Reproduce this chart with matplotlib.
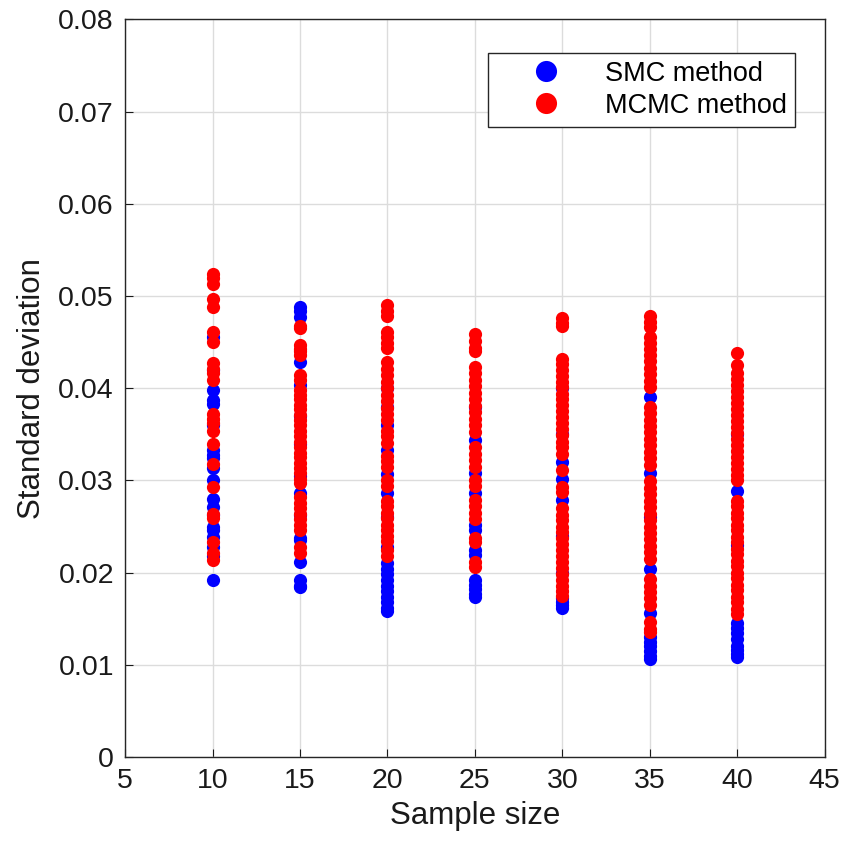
import matplotlib
matplotlib.use("Agg")
import matplotlib.pyplot as plt
import numpy as np

### Sample sizes (x positions of each column of runs)
SAMPLE_SIZES = [10, 15, 20, 25, 30, 35, 40]

### Standard deviations of the SMC runs, one list per sample size
SMC_10 = [0.0455, 0.0420, 0.0398, 0.0387, 0.0383, 0.0360, 0.0333, 0.0328, 0.0324, 0.0313,
          0.0300, 0.0280, 0.0271, 0.0262, 0.0250, 0.0246, 0.0239, 0.0228, 0.0218, 0.0192]
SMC_15 = [0.0488, 0.0484, 0.0477, 0.0428, 0.0403, 0.0370, 0.0340, 0.0305, 0.0286, 0.0262,
          0.0238, 0.0235, 0.0211, 0.0192, 0.0186, 0.0184]
SMC_20 = [0.0400, 0.0380, 0.0360, 0.0333, 0.0307, 0.0286, 0.0260, 0.0228, 0.0210, 0.0204,
          0.0198, 0.0192, 0.0186, 0.0180, 0.0174, 0.0168, 0.0162, 0.0158]
SMC_25 = [0.0380, 0.0344, 0.0308, 0.0286, 0.0252, 0.0246, 0.0224, 0.0219, 0.0192, 0.0187,
          0.0182, 0.0177, 0.0174]
SMC_30 = [0.0400, 0.0350, 0.0320, 0.0302, 0.0279, 0.0240, 0.0200, 0.0172, 0.0168, 0.0165,
          0.0162]
SMC_35 = [0.0390, 0.0308, 0.0260, 0.0204, 0.0156, 0.0130, 0.0125, 0.0120, 0.0115, 0.0110,
          0.0106]
SMC_40 = [0.0350, 0.0289, 0.0230, 0.0145, 0.0140, 0.0135, 0.0128, 0.0120, 0.0116, 0.0112,
          0.0108]

### Standard deviations of the MCMC runs
MCMC_10 = [0.0524, 0.0519, 0.0513, 0.0497, 0.0488, 0.0461, 0.0450, 0.0427, 0.0421, 0.0416,
           0.0409, 0.0372, 0.0367, 0.0362, 0.0354, 0.0340, 0.0318, 0.0293, 0.0264, 0.0259,
           0.0233, 0.0221, 0.0214]
MCMC_15 = [0.0468, 0.0465, 0.0447, 0.0443, 0.0440, 0.0436, 0.0414, 0.0409, 0.0398, 0.0393,
           0.0388, 0.0382, 0.0377, 0.0371, 0.0365, 0.0360, 0.0354, 0.0348, 0.0342, 0.0336,
           0.0330, 0.0325, 0.0319, 0.0313, 0.0308, 0.0302, 0.0297, 0.0282, 0.0276, 0.0270,
           0.0264, 0.0258, 0.0252, 0.0246, 0.0228, 0.0221]
MCMC_20 = [0.0490, 0.0484, 0.0478, 0.0461, 0.0455, 0.0449, 0.0444, 0.0428, 0.0421, 0.0414,
           0.0407, 0.0400, 0.0393, 0.0386, 0.0379, 0.0372, 0.0365, 0.0354, 0.0348, 0.0341,
           0.0327, 0.0321, 0.0314, 0.0300, 0.0294, 0.0278, 0.0272, 0.0265, 0.0259, 0.0252,
           0.0246, 0.0240, 0.0234, 0.0224, 0.0218]
MCMC_25 = [0.0459, 0.0451, 0.0444, 0.0440, 0.0423, 0.0416, 0.0409, 0.0402, 0.0395, 0.0388,
           0.0381, 0.0374, 0.0367, 0.0360, 0.0353, 0.0336, 0.0329, 0.0322, 0.0315, 0.0300,
           0.0294, 0.0279, 0.0272, 0.0265, 0.0258, 0.0237, 0.0233, 0.0212, 0.0206]
MCMC_30 = [0.0476, 0.0471, 0.0467, 0.0432, 0.0426, 0.0420, 0.0413, 0.0407, 0.0401, 0.0394,
           0.0388, 0.0382, 0.0375, 0.0369, 0.0362, 0.0356, 0.0349, 0.0342, 0.0336, 0.0329,
           0.0311, 0.0293, 0.0287, 0.0270, 0.0263, 0.0257, 0.0250, 0.0244, 0.0237, 0.0231,
           0.0224, 0.0218, 0.0211, 0.0205, 0.0198, 0.0192, 0.0186, 0.0180, 0.0175]
MCMC_35 = [0.0478, 0.0472, 0.0466, 0.0456, 0.0449, 0.0443, 0.0436, 0.0429, 0.0422, 0.0415,
           0.0408, 0.0401, 0.0380, 0.0373, 0.0366, 0.0359, 0.0352, 0.0345, 0.0338, 0.0331,
           0.0324, 0.0317, 0.0299, 0.0292, 0.0285, 0.0278, 0.0271, 0.0264, 0.0257, 0.0250,
           0.0243, 0.0236, 0.0229, 0.0222, 0.0215, 0.0193, 0.0186, 0.0179, 0.0172, 0.0165,
           0.0146, 0.0139, 0.0136]
MCMC_40 = [0.0438, 0.0425, 0.0416, 0.0410, 0.0403, 0.0397, 0.0390, 0.0384, 0.0377, 0.0371,
           0.0364, 0.0358, 0.0351, 0.0345, 0.0338, 0.0332, 0.0325, 0.0319, 0.0312, 0.0306,
           0.0300, 0.0278, 0.0272, 0.0265, 0.0259, 0.0252, 0.0246, 0.0239, 0.0233, 0.0226,
           0.0220, 0.0213, 0.0207, 0.0200, 0.0194, 0.0187, 0.0181, 0.0174, 0.0168, 0.0161,
           0.0155]

SMC = [SMC_10, SMC_15, SMC_20, SMC_25, SMC_30, SMC_35, SMC_40]
MCMC = [MCMC_10, MCMC_15, MCMC_20, MCMC_25, MCMC_30, MCMC_35, MCMC_40]

plt.rcParams['font.family'] = ['Liberation Sans', 'DejaVu Sans']

fig = plt.figure(figsize=(8.45, 8.43), dpi=100)
ax = fig.add_axes([0.148, 0.102, 0.828, 0.875])

def stack(groups):
	xs, ys = [], []
	for n, vals in zip(SAMPLE_SIZES, groups):
		xs.extend([n] * len(vals))
		ys.extend(vals)
	return xs, ys

# blue first, red drawn on top of it
x_smc, y_smc = stack(SMC)
x_mcmc, y_mcmc = stack(MCMC)
ax.plot(x_smc, y_smc, 'o', color='#0000ff', markersize=9.5, markeredgewidth=0, label='SMC method', zorder=3)
ax.plot(x_mcmc, y_mcmc, 'o', color='#ff0000', markersize=9.5, markeredgewidth=0, label='MCMC method', zorder=4)

ax.set_xlim(5, 45)
ax.set_ylim(0, 0.08)
ax.set_xticks(np.arange(5, 46, 5))
ax.set_yticks(np.arange(0, 0.081, 0.01))
ax.set_yticklabels(['0', '0.01', '0.02', '0.03', '0.04', '0.05', '0.06', '0.07', '0.08'])
ax.grid(True, color='#dcdcdc', linewidth=1.0)
ax.set_axisbelow(True)
ax.tick_params(direction='in', length=6, labelsize=20.5, colors='#1a1a1a', pad=8)
for sp in ax.spines.values():
	sp.set_color('#262626')
	sp.set_linewidth(1.0)

ax.set_xlabel('Sample size', fontsize=22.5, color='#1a1a1a', labelpad=5)
ax.set_ylabel('Standard deviation', fontsize=22.5, color='#1a1a1a', labelpad=8)

leg = ax.legend(loc='upper right', bbox_to_anchor=(0.957, 0.955), borderaxespad=0, fontsize=19.5,
				frameon=True, fancybox=False, edgecolor='#262626', framealpha=1, markerscale=1.6,
				handletextpad=0.3, borderpad=0.3, labelspacing=0.22, handlelength=3.7)
leg.get_frame().set_linewidth(1.0)

fig.savefig('out.png', dpi=100)
